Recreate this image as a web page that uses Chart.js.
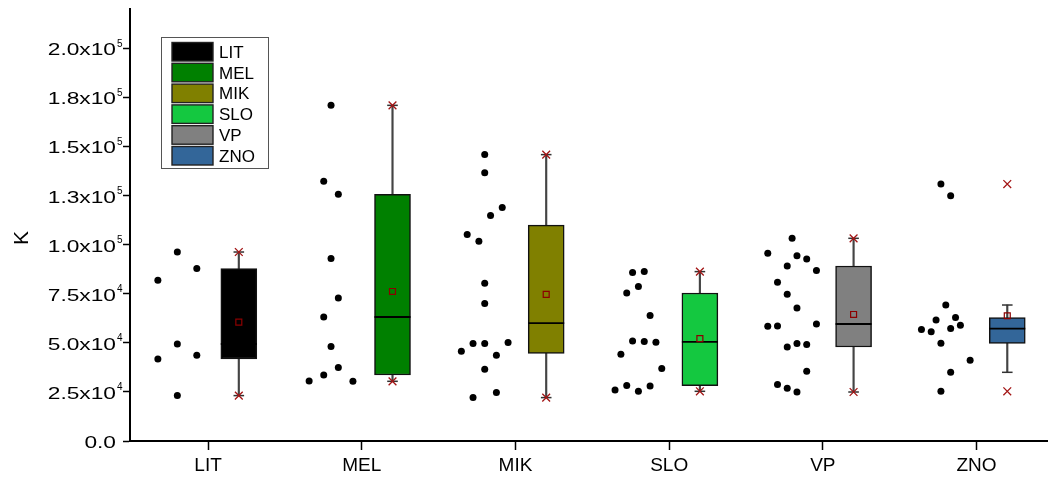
<!DOCTYPE html>
<html><head><meta charset="utf-8">
<script src="https://cdn.jsdelivr.net/npm/chart.js@4.4.1/dist/chart.umd.min.js"></script>
<style>html,body{margin:0;padding:0;background:#fff;}canvas{display:block;}</style>
</head><body>
<canvas id="c" width="1048" height="481" style="width:1048px;height:481px"></canvas>
<script>
// ---------- data ----------
const categories = ['LIT', 'MEL', 'MIK', 'SLO', 'VP', 'ZNO'];
const boxColors = ['#000000', '#008000', '#808000', '#14C840', '#808080', '#336699'];
const valuesLIT = [81830, 96240, 87790, 41760, 49390, 43640, 23120];
const valuesMEL = [170940, 132240, 125620, 92880, 63140, 72820, 48070, 30550, 33610, 37380, 30400];
const valuesMIK = [145840, 136670, 105100, 101690, 114780, 118850, 80300, 69960, 45680, 49600, 49600, 43640, 50100, 22100, 36510, 24650];
const valuesSLO = [85750, 86260, 75360, 78620, 63850, 44150, 50920, 50610, 50260, 25970, 28210, 25310, 28010, 36870];
const valuesVP  = [103220, 95580, 80810, 89110, 94400, 92680, 86770, 74700, 67720, 58410, 58560, 47870, 49600, 49090, 59580, 28720, 26830, 24950, 35490];
const valuesZNO = [130860, 124950, 61610, 69250, 62830, 56720, 55700, 49750, 57230, 58910, 41090, 25310, 34980];
const seriesValues = [valuesLIT, valuesMEL, valuesMIK, valuesSLO, valuesVP, valuesZNO];
const yTickValues = [0, 25000, 50000, 75000, 100000, 125000, 150000, 175000, 200000];
const yTickLabels = ['0.0', '2.5x10^4', '5.0x10^4', '7.5x10^4', '1.0x10^5', '1.3x10^5', '1.5x10^5', '1.8x10^5', '2.0x10^5'];
const yAxisTitle = 'K';

// ---------- layout constants ----------
const BIN = 20000, PT_OFF = -0.2, BOX_OFF = 0.2, SPREAD = 0.38;
const FONT = '"Liberation Sans", Arial, sans-serif';

function quantile(s, p) {
  const n = s.length, np = n * p, j = Math.floor(np);
  if (Math.abs(np - j) < 1e-9) return (s[j - 1] + s[j]) / 2;
  return s[Math.ceil(np) - 1];
}
function stats(vals) {
  const s = vals.slice().sort((a, b) => a - b);
  const q1 = quantile(s, 0.25), med = quantile(s, 0.5), q3 = quantile(s, 0.75);
  const iqr = q3 - q1, lo = q1 - 1.5 * iqr, hi = q3 + 1.5 * iqr;
  const inside = s.filter(v => v >= lo && v <= hi);
  return { q1, med, q3, mean: s.reduce((a, b) => a + b, 0) / s.length,
           min: s[0], max: s[s.length - 1], wLo: inside[0], wHi: inside[inside.length - 1] };
}
function jitter(vals, cx) {
  const bins = new Map();
  vals.forEach(v => { const b = Math.floor(v / BIN); if (!bins.has(b)) bins.set(b, []); bins.get(b).push(v); });
  const groups = [...bins.values()];
  const step = SPREAD / Math.max(...groups.map(g => g.length));
  const pts = [];
  groups.forEach(g => g.forEach((v, k) => pts.push({ x: cx + (k - (g.length - 1) / 2) * step, y: v })));
  return pts;
}

const dots = [], whiskers = [], boxes = [], medians = [], caps = [], means = [], extremes = [];
seriesValues.forEach((vals, i) => {
  const c = i + 1, bx = c + BOX_OFF, st = stats(vals);
  dots.push(...jitter(vals, c + PT_OFF));
  whiskers.push({ x: bx, y: [st.wLo, st.q1] }, { x: bx, y: [st.q3, st.wHi] });
  boxes.push({ x: bx, y: [st.q1, st.q3] });
  medians.push({ x: bx, y: st.med });
  caps.push({ x: bx, y: st.wLo }, { x: bx, y: st.wHi });
  means.push({ x: bx, y: st.mean });
  extremes.push({ x: bx, y: st.min }, { x: bx, y: st.max });
});

const decor = {
  id: 'decor',
  afterDraw(chart) {
    const ctx = chart.ctx, ys = chart.scales.y, ca = chart.chartArea;
    ctx.save();
    ctx.fillStyle = '#000';
    yTickValues.forEach((v, i) => {
      const py = ys.getPixelForValue(v);
      const parts = yTickLabels[i].split('^');
      ctx.font = '16px ' + FONT;
      ctx.textAlign = 'right'; ctx.textBaseline = 'alphabetic';
      ctx.save(); ctx.translate(ca.left - 14, py + 7); ctx.scale(1.42, 1);
      ctx.fillText(parts[0], 0, 0); ctx.restore();
      if (parts[1]) {
        ctx.font = '10px ' + FONT; ctx.textAlign = 'left';
        ctx.fillText(parts[1], ca.left - 13, py - 1.5);
      }
    });
    // axis title
    ctx.save();
    ctx.font = '21px ' + FONT;
    ctx.translate(27.5, (ca.top + ca.bottom) / 2 + 13);
    ctx.rotate(-Math.PI / 2);
    ctx.textAlign = 'center'; ctx.textBaseline = 'alphabetic';
    ctx.fillText(yAxisTitle, 0, 0);
    ctx.restore();
    // legend
    const lx = ca.left + 31, ly = ca.top + 28;
    ctx.strokeStyle = '#555'; ctx.lineWidth = 1;
    ctx.strokeRect(lx + 0.5, ly + 0.5, 107, 131);
    categories.forEach((name, i) => {
      const sy = ly + 5.5 + i * 20.8;
      ctx.fillStyle = boxColors[i];
      ctx.fillRect(lx + 11, sy, 41, 18.5);
      ctx.strokeStyle = '#222'; ctx.lineWidth = 1.4;
      ctx.strokeRect(lx + 11, sy, 41, 18.5);
      ctx.fillStyle = '#000'; ctx.font = '17px ' + FONT;
      ctx.textAlign = 'left'; ctx.textBaseline = 'alphabetic';
      ctx.fillText(name, lx + 58, sy + 9.25 + 6.1);
    });
    ctx.restore();
  }
};

new Chart(document.getElementById('c'), {
  type: 'scatter',
  data: {
    datasets: [
      { type: 'scatter', label: 'points', data: dots, order: 6,
        pointStyle: 'circle', pointRadius: 3.5, pointBackgroundColor: '#000', pointBorderWidth: 0 },
      { type: 'bar', label: 'whiskers', data: whiskers, order: 5, grouped: false,
        barThickness: 1.5, maxBarThickness: 1.5, backgroundColor: '#444', borderWidth: 0 },
      { type: 'bar', label: 'boxes', data: boxes, order: 4, grouped: false,
        barThickness: 36, maxBarThickness: 36, backgroundColor: boxColors,
        borderColor: '#111', borderWidth: 1.5, borderSkipped: false },
      { type: 'scatter', label: 'median', data: medians, order: 3,
        pointStyle: 'line', pointRadius: 18, pointBorderColor: '#000', pointBorderWidth: 1.8 },
      { type: 'scatter', label: 'caps', data: caps, order: 2,
        pointStyle: 'line', pointRadius: 5.3, pointBorderColor: '#333', pointBorderWidth: 1.5 },
      { type: 'scatter', label: 'mean', data: means, order: 1,
        pointStyle: 'rect', pointRadius: 4.2, pointBackgroundColor: 'rgba(0,0,0,0)',
        pointBorderColor: '#8b0000', pointBorderWidth: 1.2 },
      { type: 'scatter', label: 'min/max', data: extremes, order: 0,
        pointStyle: 'crossRot', pointRadius: 5.5, pointBorderColor: '#a31515', pointBorderWidth: 1.3 }
    ]
  },
  options: {
    responsive: false, animation: false, events: [],
    layout: { autoPadding: false, padding: { top: 9, right: 0, bottom: 0, left: 0 } },
    plugins: { legend: { display: false }, tooltip: { enabled: false } },
    scales: {
      x: {
        type: 'linear', min: 0.492, max: 6.465, offset: false,
        afterBuildTicks: s => { s.ticks = categories.map((_, i) => ({ value: i + 1 })); },
        afterFit: s => { s.height = 40; },
        ticks: { callback: (v, i) => categories[i], autoSkip: false, maxRotation: 0,
                 padding: 4, color: '#000', font: { family: FONT, size: 19 } },
        grid: { offset: false, drawOnChartArea: false, drawTicks: true, tickLength: 9,
                tickColor: '#000', tickWidth: 1.5, color: '#000' },
        border: { display: true, color: '#000', width: 2 }
      },
      y: {
        type: 'linear', min: 0, max: 220000,
        afterBuildTicks: s => { s.ticks = yTickValues.map(v => ({ value: v })); },
        afterFit: s => { s.width = 130; },
        ticks: { display: false },
        grid: { drawOnChartArea: false, drawTicks: true, tickLength: 7,
                tickColor: '#000', tickWidth: 1.5, color: '#000' },
        border: { display: true, color: '#000', width: 2 }
      }
    }
  },
  plugins: [decor]
});
</script>
</body></html>
